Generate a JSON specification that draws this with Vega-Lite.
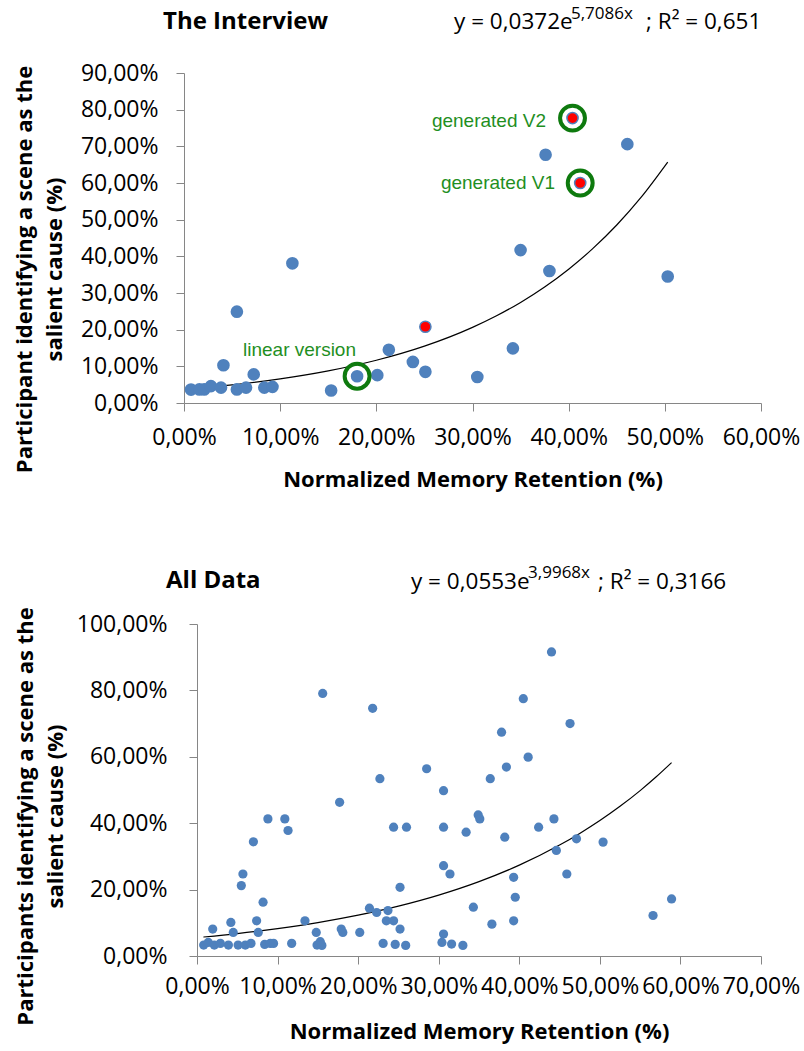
{
  "$schema": "https://vega.github.io/schema/vega-lite/v6.json",
  "padding": {"left": 13, "top": 5, "right": 5, "bottom": 5},
  "spacing": 74,
  "config": {
    "font": "Open Sans",
    "locale": {"number": {"decimal": ",", "thousands": ".", "grouping": [3], "currency": ["", " €"]}},
    "view": {"stroke": null},
    "axis": {
      "grid": false, "domain": true, "ticks": true,
      "domainColor": "#868686", "tickColor": "#868686", "domainWidth": 1, "tickWidth": 1, "tickSize": 8,
      "labelFont": "Open Sans", "labelFontSize": 23, "labelColor": "#000000",
      "titleFont": "Open Sans", "titleFontSize": 22, "titleFontWeight": "bold", "titleColor": "#000000",
      "labelFlush": false, "labelOverlap": false
    },
    "title": {"font": "Open Sans", "fontSize": 24, "fontWeight": "bold", "color": "#000000", "anchor": "start", "frame": "group"}
  },
  "datasets": {
    "interview": [
      {"x": 0.0073, "y": 0.0366, "kind": "blue"},
      {"x": 0.016, "y": 0.037, "kind": "blue"},
      {"x": 0.021, "y": 0.037, "kind": "blue"},
      {"x": 0.028, "y": 0.046, "kind": "blue"},
      {"x": 0.0385, "y": 0.042, "kind": "blue"},
      {"x": 0.041, "y": 0.103, "kind": "blue"},
      {"x": 0.055, "y": 0.037, "kind": "blue"},
      {"x": 0.055, "y": 0.249, "kind": "blue"},
      {"x": 0.0645, "y": 0.042, "kind": "blue"},
      {"x": 0.0725, "y": 0.078, "kind": "blue"},
      {"x": 0.0835, "y": 0.042, "kind": "blue"},
      {"x": 0.092, "y": 0.044, "kind": "blue"},
      {"x": 0.1127, "y": 0.381, "kind": "blue"},
      {"x": 0.153, "y": 0.034, "kind": "blue"},
      {"x": 0.180, "y": 0.073, "kind": "blue", "note": "linear version"},
      {"x": 0.201, "y": 0.076, "kind": "blue"},
      {"x": 0.213, "y": 0.145, "kind": "blue"},
      {"x": 0.238, "y": 0.112, "kind": "blue"},
      {"x": 0.251, "y": 0.208, "kind": "red"},
      {"x": 0.251, "y": 0.085, "kind": "blue"},
      {"x": 0.305, "y": 0.071, "kind": "blue"},
      {"x": 0.342, "y": 0.149, "kind": "blue"},
      {"x": 0.350, "y": 0.417, "kind": "blue"},
      {"x": 0.380, "y": 0.360, "kind": "blue"},
      {"x": 0.376, "y": 0.677, "kind": "blue"},
      {"x": 0.461, "y": 0.706, "kind": "blue"},
      {"x": 0.503, "y": 0.345, "kind": "blue"},
      {"x": 0.404, "y": 0.777, "kind": "red", "note": "generated V2"},
      {"x": 0.412, "y": 0.600, "kind": "red", "note": "generated V1"}
    ],
    "fit_top": [
      {"x": 0.007, "y": 0.0387}, {"x": 0.05, "y": 0.0495}, {"x": 0.10, "y": 0.0658},
      {"x": 0.15, "y": 0.0876}, {"x": 0.20, "y": 0.1165}, {"x": 0.25, "y": 0.1550},
      {"x": 0.30, "y": 0.2062}, {"x": 0.325, "y": 0.2378}, {"x": 0.35, "y": 0.2743},
      {"x": 0.375, "y": 0.3164}, {"x": 0.40, "y": 0.3650}, {"x": 0.425, "y": 0.4209},
      {"x": 0.45, "y": 0.4855}, {"x": 0.475, "y": 0.5600}, {"x": 0.503, "y": 0.6571}
    ],
    "alldata": [
      {"x": 0.0083, "y": 0.033}, {"x": 0.014, "y": 0.041}, {"x": 0.0195, "y": 0.081},
      {"x": 0.0215, "y": 0.033}, {"x": 0.029, "y": 0.038}, {"x": 0.039, "y": 0.033},
      {"x": 0.042, "y": 0.101}, {"x": 0.045, "y": 0.071}, {"x": 0.051, "y": 0.033},
      {"x": 0.055, "y": 0.212}, {"x": 0.057, "y": 0.247}, {"x": 0.060, "y": 0.033},
      {"x": 0.067, "y": 0.038}, {"x": 0.070, "y": 0.344}, {"x": 0.074, "y": 0.106},
      {"x": 0.076, "y": 0.071}, {"x": 0.082, "y": 0.162}, {"x": 0.084, "y": 0.035},
      {"x": 0.088, "y": 0.413}, {"x": 0.091, "y": 0.038}, {"x": 0.095, "y": 0.038},
      {"x": 0.109, "y": 0.413}, {"x": 0.113, "y": 0.378}, {"x": 0.1175, "y": 0.038},
      {"x": 0.134, "y": 0.106}, {"x": 0.148, "y": 0.071}, {"x": 0.149, "y": 0.033},
      {"x": 0.153, "y": 0.043}, {"x": 0.155, "y": 0.032}, {"x": 0.156, "y": 0.791},
      {"x": 0.177, "y": 0.463}, {"x": 0.179, "y": 0.081}, {"x": 0.181, "y": 0.071},
      {"x": 0.202, "y": 0.071}, {"x": 0.214, "y": 0.144}, {"x": 0.218, "y": 0.746},
      {"x": 0.223, "y": 0.131}, {"x": 0.227, "y": 0.534}, {"x": 0.231, "y": 0.038},
      {"x": 0.237, "y": 0.137}, {"x": 0.235, "y": 0.106}, {"x": 0.244, "y": 0.106},
      {"x": 0.244, "y": 0.388}, {"x": 0.246, "y": 0.035}, {"x": 0.252, "y": 0.207},
      {"x": 0.252, "y": 0.081}, {"x": 0.259, "y": 0.032}, {"x": 0.260, "y": 0.388},
      {"x": 0.285, "y": 0.564}, {"x": 0.306, "y": 0.498}, {"x": 0.306, "y": 0.388},
      {"x": 0.306, "y": 0.272}, {"x": 0.314, "y": 0.247}, {"x": 0.306, "y": 0.066},
      {"x": 0.304, "y": 0.041}, {"x": 0.316, "y": 0.036}, {"x": 0.330, "y": 0.032},
      {"x": 0.334, "y": 0.373}, {"x": 0.343, "y": 0.147}, {"x": 0.349, "y": 0.425},
      {"x": 0.351, "y": 0.413}, {"x": 0.364, "y": 0.534}, {"x": 0.366, "y": 0.096},
      {"x": 0.378, "y": 0.674}, {"x": 0.382, "y": 0.358}, {"x": 0.384, "y": 0.569},
      {"x": 0.393, "y": 0.237}, {"x": 0.395, "y": 0.177}, {"x": 0.393, "y": 0.106},
      {"x": 0.405, "y": 0.775}, {"x": 0.411, "y": 0.599}, {"x": 0.424, "y": 0.388},
      {"x": 0.440, "y": 0.916}, {"x": 0.443, "y": 0.413}, {"x": 0.446, "y": 0.318},
      {"x": 0.463, "y": 0.700}, {"x": 0.459, "y": 0.247}, {"x": 0.471, "y": 0.353},
      {"x": 0.504, "y": 0.343}, {"x": 0.566, "y": 0.122}, {"x": 0.589, "y": 0.172}
    ],
    "fit_all": [
      {"x": 0.008, "y": 0.0571}, {"x": 0.05, "y": 0.0675}, {"x": 0.10, "y": 0.0825},
      {"x": 0.15, "y": 0.1007}, {"x": 0.20, "y": 0.1230}, {"x": 0.25, "y": 0.1502},
      {"x": 0.30, "y": 0.1834}, {"x": 0.35, "y": 0.2240}, {"x": 0.40, "y": 0.2736},
      {"x": 0.45, "y": 0.3341}, {"x": 0.475, "y": 0.3692}, {"x": 0.50, "y": 0.4080},
      {"x": 0.525, "y": 0.4508}, {"x": 0.55, "y": 0.4982}, {"x": 0.57, "y": 0.5397},
      {"x": 0.589, "y": 0.5823}
    ]
  },
  "vconcat": [
    {
      "width": 577,
      "height": 330,
      "title": {"text": "The Interview", "dx": -21, "offset": -29},
      "layer": [
        {
          "data": {"name": "fit_top"},
          "mark": {"type": "line", "color": "#000000", "strokeWidth": 1.2, "interpolate": "monotone"},
          "encoding": {
            "x": {"field": "x", "type": "quantitative", "scale": {"domain": [0, 0.6], "nice": false, "zero": false},
              "axis": {"values": [0, 0.1, 0.2, 0.3, 0.4, 0.5, 0.6], "tickCount": 7, "format": ".2%", "title": "Normalized Memory Retention (%)", "labelPadding": 15, "titlePadding": 20, "labelOverlap": false, "domain": true, "ticks": true}},
            "y": {"field": "y", "type": "quantitative", "scale": {"domain": [0, 0.9], "nice": false, "zero": false},
              "axis": {"values": [0, 0.1, 0.2, 0.3, 0.4, 0.5, 0.6, 0.7, 0.8, 0.9], "tickCount": 10, "format": ".2%", "title": ["Participant identifying a scene as the", "salient cause (%)"], "labelPadding": 18, "titlePadding": 14, "titleLineHeight": 30, "titleY": 196, "labelOverlap": false, "domain": true, "ticks": true}}
          }
        },
        {
          "data": {"name": "interview"},
          "transform": [{"filter": "datum.kind === 'blue'"}],
          "mark": {"type": "circle", "color": "#4f81bd", "size": 160, "opacity": 1},
          "encoding": {"x": {"field": "x", "type": "quantitative"}, "y": {"field": "y", "type": "quantitative"}}
        },
        {
          "data": {"name": "interview"},
          "transform": [{"filter": "datum.kind === 'red'"}],
          "mark": {"type": "circle", "color": "#ff0000", "stroke": "#4f81bd", "strokeWidth": 1.5, "size": 125, "opacity": 1},
          "encoding": {"x": {"field": "x", "type": "quantitative"}, "y": {"field": "y", "type": "quantitative"}}
        },
        {
          "data": {"name": "interview"},
          "transform": [{"filter": "isValid(datum.note)"}],
          "mark": {"type": "point", "filled": false, "stroke": "#0e7a0e", "strokeWidth": 4, "size": 620, "opacity": 1},
          "encoding": {"x": {"field": "x", "type": "quantitative"}, "y": {"field": "y", "type": "quantitative"}}
        },
        {
          "data": {"values": [{}]},
          "mark": {"type": "text", "text": "generated V2", "align": "right", "baseline": "middle", "font": "Liberation Sans", "fontSize": 19, "color": "#1f8f1f"},
          "encoding": {"x": {"datum": 0.3764}, "y": {"datum": 0.769}}
        },
        {
          "data": {"values": [{}]},
          "mark": {"type": "text", "text": "generated V1", "align": "right", "baseline": "middle", "font": "Liberation Sans", "fontSize": 19, "color": "#1f8f1f"},
          "encoding": {"x": {"datum": 0.3858}, "y": {"datum": 0.600}}
        },
        {
          "data": {"values": [{}]},
          "mark": {"type": "text", "text": "linear version", "align": "center", "baseline": "middle", "font": "Liberation Sans", "fontSize": 19, "color": "#1f8f1f"},
          "encoding": {"x": {"datum": 0.1201}, "y": {"datum": 0.1445}}
        },
        {
          "data": {"values": [{}]},
          "mark": {"type": "text", "text": "y = 0,0372e", "align": "left", "baseline": "alphabetic", "font": "Open Sans", "fontSize": 22.5, "color": "#000000"},
          "encoding": {"x": {"datum": 0.2808}, "y": {"datum": 1.020}}
        },
        {
          "data": {"values": [{}]},
          "mark": {"type": "text", "text": "5,7086x", "align": "left", "baseline": "alphabetic", "font": "Open Sans", "fontSize": 17, "color": "#000000"},
          "encoding": {"x": {"datum": 0.4024}, "y": {"datum": 1.047}}
        },
        {
          "data": {"values": [{}]},
          "mark": {"type": "text", "text": "; R² = 0,651", "align": "left", "baseline": "alphabetic", "font": "Open Sans", "fontSize": 22.5, "color": "#000000"},
          "encoding": {"x": {"datum": 0.4804}, "y": {"datum": 1.020}}
        }
      ]
    },
    {
      "width": 577,
      "height": 332,
      "title": {"text": "All Data", "dx": -18, "offset": -29},
      "layer": [
        {
          "data": {"name": "fit_all"},
          "mark": {"type": "line", "color": "#000000", "strokeWidth": 1.2, "interpolate": "monotone"},
          "encoding": {
            "x": {"field": "x", "type": "quantitative", "scale": {"domain": [0, 0.7], "nice": false, "zero": false, "range": [13, 577]},
              "axis": {"values": [0, 0.1, 0.2, 0.3, 0.4, 0.5, 0.6, 0.7], "tickCount": 8, "format": ".2%", "title": "Normalized Memory Retention (%)", "labelPadding": 11, "titlePadding": 23, "labelOverlap": false, "domain": true, "ticks": true}},
            "y": {"field": "y", "type": "quantitative", "scale": {"domain": [0, 1], "nice": false, "zero": false},
              "axis": {"values": [0, 0.2, 0.4, 0.6, 0.8, 1], "tickCount": 6, "format": ".2%", "title": ["Participants identifying a scene as the", "salient cause  (%)"], "labelPadding": 22, "titlePadding": 9, "titleLineHeight": 30, "titleY": 192, "offset": -13, "labelOverlap": false, "domain": true, "ticks": true}}
          }
        },
        {
          "data": {"name": "alldata"},
          "mark": {"type": "circle", "color": "#4f81bd", "size": 85, "opacity": 1},
          "encoding": {"x": {"field": "x", "type": "quantitative"}, "y": {"field": "y", "type": "quantitative"}}
        },
        {
          "data": {"values": [{}]},
          "mark": {"type": "text", "text": "y = 0,0553e", "align": "left", "baseline": "alphabetic", "font": "Open Sans", "fontSize": 22.5, "color": "#000000"},
          "encoding": {"x": {"datum": 0.2656}, "y": {"datum": 1.1045}}
        },
        {
          "data": {"values": [{}]},
          "mark": {"type": "text", "text": "3,9968x", "align": "left", "baseline": "alphabetic", "font": "Open Sans", "fontSize": 17, "color": "#000000"},
          "encoding": {"x": {"datum": 0.4109}, "y": {"datum": 1.1377}}
        },
        {
          "data": {"values": [{}]},
          "mark": {"type": "text", "text": "; R² = 0,3166", "align": "left", "baseline": "alphabetic", "font": "Open Sans", "fontSize": 22.5, "color": "#000000"},
          "encoding": {"x": {"datum": 0.4977}, "y": {"datum": 1.1045}}
        }
      ]
    }
  ]
}
